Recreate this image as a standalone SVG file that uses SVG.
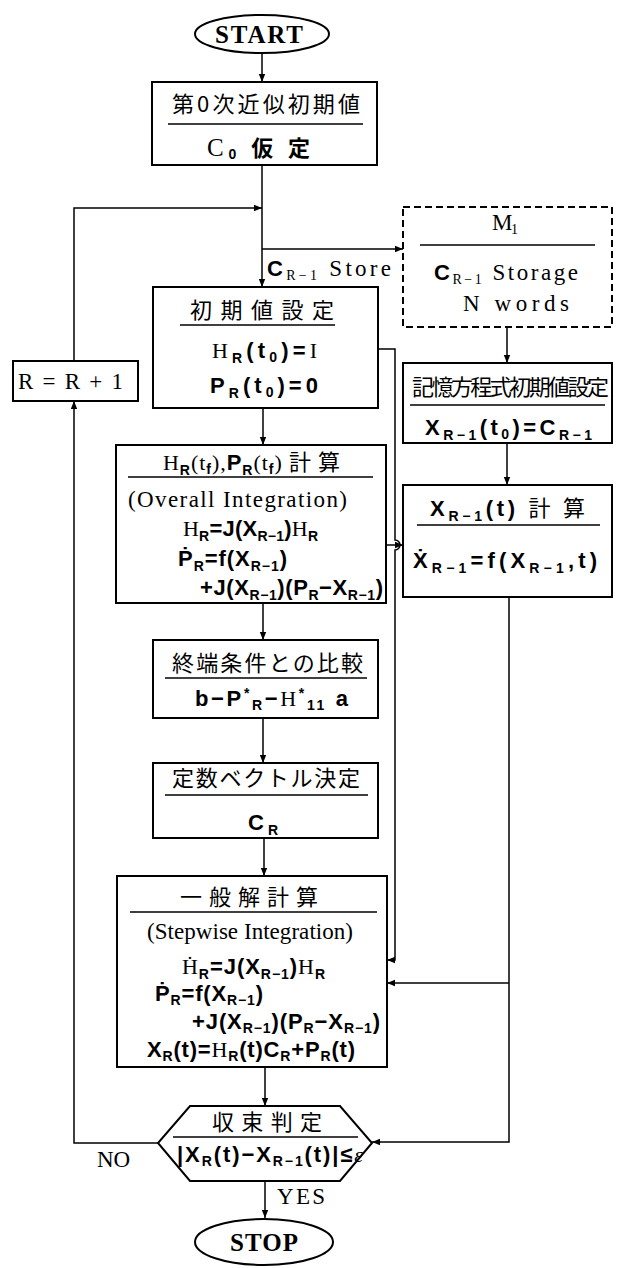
<svg xmlns="http://www.w3.org/2000/svg" width="617" height="1268" viewBox="0 0 617 1268">
<style>
.box{fill:#fff;stroke:#000;stroke-width:2}
.dash{fill:#fff;stroke:#000;stroke-width:2;stroke-dasharray:7,4}
.div{stroke:#000;stroke-width:1.5}
.ln{fill:none;stroke:#000;stroke-width:1.5}
.jp{font-family:"Noto Sans CJK JP","Noto Sans CJK SC",sans-serif;font-size:22px;fill:#000}
.m{font-family:"Liberation Sans",Arial,sans-serif;font-weight:bold;font-size:22px;fill:#000}
.r{font-family:"Liberation Serif","Times New Roman",serif;font-weight:normal}
.t{font-family:"Liberation Serif","Times New Roman",serif;font-size:23px;fill:#000}
.tb{font-family:"Liberation Serif","Times New Roman",serif;font-size:25px;font-weight:bold;fill:#000}
.s{font-size:14px}
</style>
<defs>
<marker id="ah" viewBox="0 0 10 10" refX="10" refY="5" markerWidth="8" markerHeight="8" markerUnits="userSpaceOnUse" orient="auto">
<path d="M0,1 L10,5 L0,9 Z" fill="#000"/>
</marker>
</defs>

<g id="connectors">
<line class="ln" x1="262" y1="53" x2="262" y2="82" marker-end="url(#ah)"/>
<line class="ln" x1="262" y1="165" x2="262" y2="287" marker-end="url(#ah)"/>
<line class="ln" x1="262" y1="249" x2="403" y2="249" marker-end="url(#ah)"/>
<line class="ln" x1="507" y1="327" x2="507" y2="363" marker-end="url(#ah)"/>
<line class="ln" x1="507" y1="443" x2="507" y2="485" marker-end="url(#ah)"/>
<line class="ln" x1="263" y1="408" x2="263" y2="445" marker-end="url(#ah)"/>
<line class="ln" x1="263" y1="603" x2="263" y2="640" marker-end="url(#ah)"/>
<line class="ln" x1="263" y1="718" x2="263" y2="763" marker-end="url(#ah)"/>
<line class="ln" x1="264" y1="838" x2="264" y2="876" marker-end="url(#ah)"/>
<line class="ln" x1="265" y1="1067" x2="265" y2="1106" marker-end="url(#ah)"/>
<line class="ln" x1="265" y1="1181" x2="265" y2="1218" marker-end="url(#ah)"/>
<path class="ln" d="M378,349 H395 V540 A5,5 0 0 1 395,550 V960 H387" marker-end="url(#ah)"/>
<line class="ln" x1="386" y1="545" x2="403" y2="545" marker-end="url(#ah)"/>
<path class="ln" d="M509,597 V1142 H372" marker-end="url(#ah)"/>
<line class="ln" x1="509" y1="983" x2="387" y2="983" marker-end="url(#ah)"/>
<path class="ln" d="M158,1143 H74 V401" marker-end="url(#ah)"/>
<path class="ln" d="M74,361 V208 H262" marker-end="url(#ah)"/>
</g>

<g id="start">
<ellipse class="box" cx="262" cy="34" rx="67" ry="19"/>
<text class="tb" x="215" y="43" textLength="88">START</text>
</g>

<g id="initial-guess">
<rect class="box" x="152" y="82" width="225" height="83"/>
<text class="jp" x="172" y="112" textLength="188" font-size="23">第0次近似初期値</text>
<line class="div" x1="168" y1="124" x2="363" y2="124"/>
<text class="m" x="207" y="156" textLength="103"><tspan class="r" font-weight="bold" font-size="25">C</tspan><tspan class="s" dy="3">0</tspan><tspan class="jp" dy="-3"> 仮 定</tspan></text>
</g>

<g id="memory-m1">
<rect class="dash" x="403" y="207" width="209" height="120"/>
<text class="t" x="492" y="230" textLength="26">M<tspan class="s" dy="4">1</tspan></text>
<line class="div" x1="420" y1="245" x2="595" y2="245"/>
<text class="t" x="434" y="280" textLength="144"><tspan class="m">C</tspan><tspan class="s" dy="4">R−1</tspan><tspan dy="-4"> Storage</tspan></text>
<text class="t" x="463" y="311" textLength="106">N   words</text>
</g>

<text class="t" x="267" y="276" textLength="124"><tspan class="m">C</tspan><tspan class="s" dy="4">R−1</tspan><tspan dy="-4"> Store</tspan></text>

<g id="init-set">
<rect class="box" x="153" y="287" width="225" height="121"/>
<text class="jp" x="190" y="318" textLength="144">初期値設定</text>
<line class="div" x1="180" y1="325" x2="335" y2="325"/>
<text class="m" x="212" y="358" textLength="105"><tspan class="r">H</tspan><tspan class="s" dy="5">R</tspan><tspan dy="-5">(t</tspan><tspan class="s" dy="4">0</tspan><tspan dy="-4">)=</tspan><tspan class="r">I</tspan></text>
<text class="m" x="210" y="393" textLength="108">P<tspan class="s" dy="5">R</tspan><tspan dy="-5">(t</tspan><tspan class="s" dy="4">0</tspan><tspan dy="-4">)=0</tspan></text>
</g>

<g id="r-increment">
<rect class="box" x="13" y="361" width="125" height="40"/>
<text class="t" x="18" y="389" textLength="105" font-size="26">R=R+1</text>
</g>

<g id="memory-init">
<rect class="box" x="403" y="363" width="209" height="80"/>
<text class="jp" x="412" y="395" textLength="197" font-size="20">記憶方程式初期値設定</text>
<line class="div" x1="410" y1="405" x2="605" y2="405"/>
<text class="m" x="425" y="435" textLength="167">X<tspan class="s" dy="5">R−1</tspan><tspan dy="-5">(t</tspan><tspan class="s" dy="4">0</tspan><tspan dy="-4">)=C</tspan><tspan class="s" dy="5">R−1</tspan></text>
</g>

<g id="overall-integration">
<rect class="box" x="116" y="445" width="270" height="158"/>
<text class="m" x="163" y="470" textLength="177"><tspan class="r">H</tspan><tspan class="s" dy="5">R</tspan><tspan class="r" dy="-5">(t</tspan><tspan class="s" dy="4">f</tspan><tspan class="r" dy="-4">),</tspan>P<tspan class="s" dy="5">R</tspan><tspan class="r" dy="-5">(t</tspan><tspan class="s" dy="4">f</tspan><tspan class="r" dy="-4">) </tspan><tspan class="jp" font-weight="normal">計 算</tspan></text>
<line class="div" x1="128" y1="477" x2="373" y2="477"/>
<text class="t" x="128" y="507" textLength="219">(Overall Integration)</text>
<text class="m" x="183" y="536" textLength="135"><tspan class="r">H</tspan><tspan class="s" dy="5">R</tspan><tspan dy="-5">=J(X</tspan><tspan class="s" dy="5">R−1</tspan><tspan dy="-5">)</tspan><tspan class="r">H</tspan><tspan class="s" dy="5">R</tspan></text>
<text class="m" x="178" y="566" textLength="109">Ṗ<tspan class="s" dy="5">R</tspan><tspan dy="-5">=f(X</tspan><tspan class="s" dy="5">R−1</tspan><tspan dy="-5">)</tspan></text>
<text class="m" x="200" y="595" textLength="183">+J(X<tspan class="s" dy="5">R−1</tspan><tspan dy="-5">)(P</tspan><tspan class="s" dy="5">R</tspan><tspan dy="-5">−X</tspan><tspan class="s" dy="5">R−1</tspan><tspan dy="-5">)</tspan></text>
</g>

<g id="x-compute">
<rect class="box" x="403" y="485" width="209" height="112"/>
<text class="m" x="430" y="516" textLength="155">X<tspan class="s" dy="5">R−1</tspan><tspan dy="-5">(t) </tspan><tspan class="jp" font-weight="normal">計 算</tspan></text>
<line class="div" x1="417" y1="525" x2="600" y2="525"/>
<text class="m" x="413" y="568" textLength="184">Ẋ<tspan class="s" dy="5">R−1</tspan><tspan dy="-5">=f(X</tspan><tspan class="s" dy="5">R−1</tspan><tspan dy="-5">,t)</tspan></text>
</g>

<g id="terminal-compare">
<rect class="box" x="153" y="640" width="225" height="78"/>
<text class="jp" x="172" y="671" textLength="191">終端条件との比較</text>
<line class="div" x1="165" y1="678" x2="367" y2="678"/>
<text class="m" x="195" y="706" textLength="153">b−P<tspan class="s" dy="-8">*</tspan><tspan class="s" dy="12">R</tspan><tspan dy="-4">−</tspan><tspan class="r">H</tspan><tspan class="s" dy="-8">*</tspan><tspan class="s" dy="12">11</tspan><tspan dy="-4"> a</tspan></text>
</g>

<g id="const-vector">
<rect class="box" x="153" y="763" width="225" height="75"/>
<text class="jp" x="172" y="786" textLength="188">定数ベクトル決定</text>
<line class="div" x1="165" y1="795" x2="368" y2="795"/>
<text class="m" x="248" y="830" textLength="30">C<tspan class="s" dy="5">R</tspan></text>
</g>

<g id="general-solution">
<rect class="box" x="117" y="876" width="270" height="191"/>
<text class="jp" x="180" y="905" textLength="138">一般解計算</text>
<line class="div" x1="130" y1="912" x2="377" y2="912"/>
<text class="t" x="147" y="939" textLength="206">(Stepwise Integration)</text>
<text class="m" x="182" y="974" textLength="143"><tspan class="r">Ḣ</tspan><tspan class="s" dy="5">R</tspan><tspan dy="-5">=J(X</tspan><tspan class="s" dy="5">R−1</tspan><tspan dy="-5">)</tspan><tspan class="r">H</tspan><tspan class="s" dy="5">R</tspan></text>
<text class="m" x="155" y="1001" textLength="108">Ṗ<tspan class="s" dy="4">R</tspan><tspan dy="-4">=f(X</tspan><tspan class="s" dy="4">R−1</tspan><tspan dy="-4">)</tspan></text>
<text class="m" x="192" y="1029" textLength="188">+J(X<tspan class="s" dy="4">R−1</tspan><tspan dy="-4">)(P</tspan><tspan class="s" dy="4">R</tspan><tspan dy="-4">−X</tspan><tspan class="s" dy="4">R−1</tspan><tspan dy="-4">)</tspan></text>
<text class="m" x="147" y="1057" textLength="208">X<tspan class="s" dy="4">R</tspan><tspan dy="-4">(t)=</tspan><tspan class="r">H</tspan><tspan class="s" dy="4">R</tspan><tspan dy="-4">(t)C</tspan><tspan class="s" dy="4">R</tspan><tspan dy="-4">+P</tspan><tspan class="s" dy="4">R</tspan><tspan dy="-4">(t)</tspan></text>
</g>

<g id="convergence">
<polygon class="box" points="190,1106 340,1106 372,1143 340,1181 190,1181 158,1143"/>
<text class="jp" x="212" y="1130" textLength="110">収束判定</text>
<line class="div" x1="173" y1="1137" x2="358" y2="1137"/>
<text class="m" x="177" y="1162" textLength="186">|X<tspan class="s" dy="4">R</tspan><tspan dy="-4">(t)−X</tspan><tspan class="s" dy="4">R−1</tspan><tspan dy="-4">(t)|≤</tspan><tspan class="r" font-style="italic">ε</tspan></text>
</g>

<text class="t" x="97" y="1167" textLength="33">NO</text>
<text class="t" x="277" y="1204" textLength="48">YES</text>

<g id="stop">
<ellipse class="box" cx="264" cy="1242" rx="69" ry="23"/>
<text class="tb" x="230" y="1251" textLength="68">STOP</text>
</g>
</svg>
